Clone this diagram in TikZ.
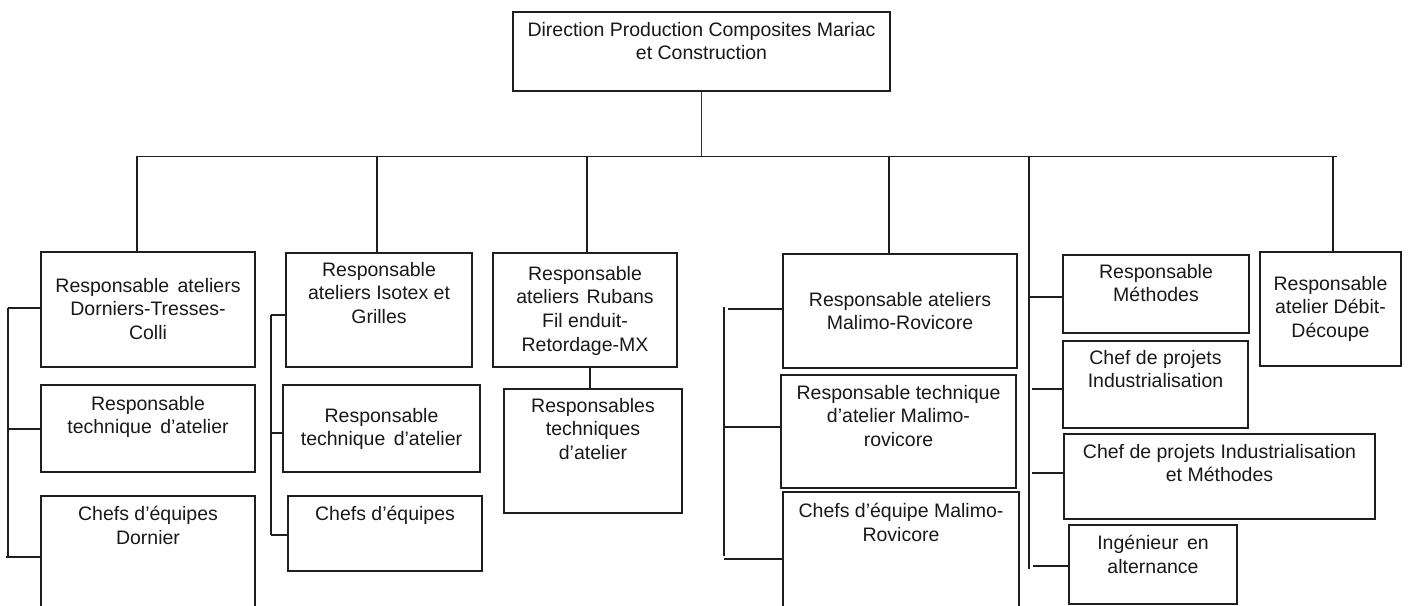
\documentclass[tikz,border=0pt]{standalone}
\usepackage{fontspec}
\setmainfont{Liberation Sans}
\begin{document}
\begin{tikzpicture}[x=1pt,y=-1pt,
  box/.style={draw=black!88,line width=1.7pt,rectangle,inner sep=0pt,fill=none},
  topbox/.style={box,line width=2.8pt},
  txt/.style={inner sep=0pt,align=center,font=\fontsize{19.5}{23.6}\selectfont,text=black!90},
  conn/.style={draw=black!88,line width=1.6pt},
  thin/.style={draw=black!80,line width=1.1pt}]
\useasboundingbox (0,0) rectangle (1410,605);
\clip (0,0) rectangle (1410,605);
\fill[white] (0,0) rectangle (1410,605);
\newcommand\obox[8][box]{%
  \node[#1,minimum width={(#5-#3)*1pt},minimum height={(#6-#4)*1pt}] (#2) at ({(#3+#5)/2},{(#4+#6)/2}) {};
  \node[txt,anchor=north] (#2-t) at ({(#3+#5)/2},{#7-9}) {#8};}
% top
\obox[topbox]{top}{513}{12}{890}{91}{31}{Direction Production Composites Mariac\\et Construction}
% column A
\obox{A}{41}{252}{255}{367}{287}{Responsable\hspace{3pt} ateliers\\Dorniers-Tresses-\\Colli}
\obox{A2}{41}{385}{255}{472}{405}{Responsable\\technique\hspace{3pt} d’atelier}
\obox{A3}{41}{496}{255}{640}{515}{Chefs d’équipes\\Dornier}
% column B
\obox{B}{286}{253}{472}{367}{271}{Responsable\\ateliers Isotex et\\Grilles}
\obox{B2}{283}{385}{480}{472}{417}{Responsable\\technique\hspace{3pt} d’atelier}
\obox{B3}{288}{496}{482}{571}{515}{Chefs d’équipes}
% column C
\obox{C}{493}{253}{677}{367}{275}{Responsable\\ateliers\hspace{2pt} Rubans\\Fil enduit-\\Retordage-MX}
\obox{C2}{504}{389}{682}{513}{407}{Responsables\\techniques\\d’atelier}
% column D
\obox{D}{783}{254}{1017}{368}{301}{Responsable ateliers\\Malimo-Rovicore}
\obox{D2}{781}{375}{1016}{488}{394}{Responsable technique\\d’atelier Malimo-\\rovicore}
\obox{D3}{783}{492}{1019}{640}{512}{Chefs d’équipe Malimo-\\Rovicore}
% column E
\obox{E}{1063}{255}{1249}{333}{273}{Responsable\\Méthodes}
\obox{E2}{1063}{341}{1248}{428}{359}{Chef de projets\\Industrialisation}
\obox{E3}{1064}{434}{1375}{519}{453}{Chef de projets Industrialisation\\et Méthodes}
\obox{E4}{1069}{525}{1237}{604}{544}{Ingénieur\hspace{3pt} en\\alternance}
% column F
\obox{F}{1260}{252}{1401}{366}{285}{Responsable\\atelier Débit-\\Découpe}
% bus
\coordinate (busL) at (136,156.5);
\coordinate (busR) at (1337,156.5);
\draw[thin] (top.south) -- (top.south |- busL);
\draw[conn,line width=1.5pt] (busL) -- (busR);
\coordinate (dA) at (137,156.5);
\coordinate (dB) at (377,156.5);
\coordinate (dC) at (587,156.5);
\coordinate (dD) at (889,156.5);
\coordinate (dE) at (1029,156.5);
\coordinate (dF) at (1333,156.5);
\draw[conn] (dA) -- (dA |- A.north);
\draw[conn] (dB) -- (dB |- B.north);
\draw[conn] (dC) -- (dC |- C.north);
\draw[conn] (dD) -- (dD |- D.north);
\draw[conn] (dF) -- (dF |- F.north);
\coordinate (dC2) at (590,367);
\draw[conn] (dC2) -- (dC2 |- C2.north);
% bracket A
\coordinate (aT) at (8,308);
\coordinate (aM) at (8,429);
\coordinate (aB) at (8,557);
\draw[conn] (aT) -- (aB);
\draw[conn] (aT) -- (A.west |- aT);
\draw[conn] (aM) -- (A2.west |- aM);
\draw[conn] (6,557) -- (A3.west |- aB);
% bracket B
\coordinate (bT) at (271,315);
\coordinate (bM) at (271,433);
\coordinate (bB) at (271,535);
\draw[conn] (bT) -- (bB);
\draw[conn] (bT) -- (B.west |- bT);
\draw[conn] (bM) -- (B2.west |- bM);
\draw[conn] (bB) -- (B3.west |- bB);
% bracket D
\coordinate (dT) at (724,307);
\coordinate (dT2) at (728,309);
\coordinate (dM) at (724,427);
\coordinate (dB2) at (724,559);
\draw[conn] (dT) -- (724,556);
\draw[conn] (dT2) -- (D.west |- dT2);
\draw[conn] (dM) -- (D2.west |- dM);
\draw[conn] (dB2) -- (D3.west |- dB2);
% trunk E
\coordinate (eB) at (1029,569);
\draw[conn] (dE) -- (eB);
\coordinate (e1) at (1029,297);
\coordinate (e2) at (1032,389);
\coordinate (e3) at (1032,473);
\coordinate (e4) at (1033,566);
\draw[conn] (e1) -- (E.west |- e1);
\draw[conn] (e2) -- (E2.west |- e2);
\draw[conn] (e3) -- (E3.west |- e3);
\draw[conn] (e4) -- (E4.west |- e4);
\end{tikzpicture}
\end{document}
